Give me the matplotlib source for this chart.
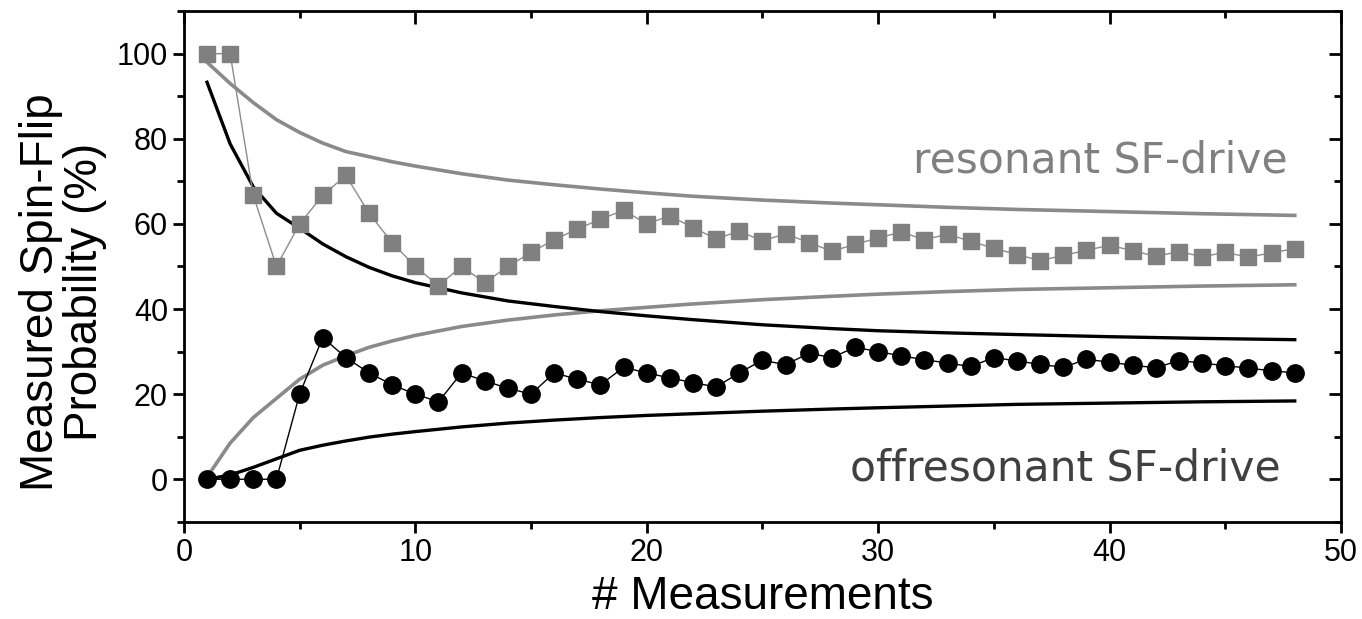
import numpy as np
import matplotlib.pyplot as plt
from matplotlib.ticker import MultipleLocator

# measured points
n = list(range(1, 49))
resonant = [100, 100, 66.7, 50, 60, 66.7, 71.4, 62.5, 55.6, 50, 45.5, 50, 46.2, 50, 53.3, 56.3,
            58.8, 61.1, 63.2, 60, 61.9, 59.1, 56.5, 58.3, 56, 57.7, 55.6, 53.6, 55.2, 56.7, 58.1, 56.3,
            57.6, 55.9, 54.3, 52.8, 51.4, 52.6, 53.8, 55, 53.7, 52.4, 53.5, 52.3, 53.3, 52.2, 53.2, 54.2]
offresonant = [0, 0, 0, 0, 20, 33.3, 28.6, 25, 22.2, 20, 18.2, 25, 23.1, 21.4, 20, 25,
               23.5, 22.2, 26.3, 25, 23.8, 22.7, 21.7, 25, 28, 26.9, 29.6, 28.6, 31, 30, 29, 28.1,
               27.3, 26.5, 28.6, 27.8, 27, 26.3, 28.2, 27.5, 26.8, 26.2, 27.9, 27.3, 26.7, 26.1, 25.5, 25]

# bound curves
xc = [1, 2, 3, 4, 5, 6, 7, 8, 9, 10, 12, 14, 16, 18, 20, 22, 25, 28, 30, 33, 36, 40, 44, 48]
res_hi = [98, 93, 88.5, 84.5, 81.5, 79, 77, 75.8, 74.6, 73.6, 71.8, 70.3, 69.2, 68.2, 67.3, 66.5,
          65.6, 64.9, 64.5, 63.9, 63.4, 62.9, 62.4, 62]
res_lo = [0.5, 8.5, 14.5, 19, 23.5, 26.8, 29, 31, 32.5, 33.8, 35.9, 37.4, 38.6, 39.6, 40.4, 41.2,
          42.2, 43, 43.5, 44.1, 44.6, 45, 45.4, 45.7]
off_hi = [93.3, 78.8, 68.7, 62.5, 59, 55.3, 52.3, 49.8, 47.8, 46.2, 43.8, 41.9, 40.6, 39.4, 38.4, 37.5,
          36.3, 35.4, 34.9, 34.4, 34, 33.5, 33.1, 32.8]
off_lo = [0, 1, 2.8, 4.8, 6.8, 8, 9, 9.9, 10.6, 11.2, 12.3, 13.2, 13.9, 14.5, 15, 15.4,
          16, 16.5, 16.8, 17.2, 17.6, 17.9, 18.2, 18.4]

gray = '#8a8a8a'

fig = plt.figure(figsize=(13.62, 6.19), dpi=100)
ax = fig.add_axes([0.135, 0.157, 0.8496, 0.825])

ax.plot(xc, res_hi, color=gray, lw=2.6, zorder=2)
ax.plot(xc, res_lo, color=gray, lw=2.6, zorder=2)
ax.plot(xc, off_hi, color='black', lw=2.4, zorder=2)
ax.plot(xc, off_lo, color='black', lw=2.4, zorder=2)

ax.plot(n, resonant, color='#8c8c8c', lw=1.0, marker='s', ms=11.5, mfc='#808080', mec='#808080', zorder=3)
ax.plot(n, offresonant, color='black', lw=1.0, marker='o', ms=12.5, mfc='black', mec='black', zorder=3)

ax.text(47.7, 72.2, 'resonant SF-drive', color='#808080', fontsize=30.5, ha='right', va='baseline',
        family='DejaVu Sans')
ax.text(47.4, -0.2, 'offresonant SF-drive', color='#404040', fontsize=30.5, ha='right', va='baseline',
        family='DejaVu Sans')

ax.set_xlim(0, 50)
ax.set_ylim(-10, 110)
ax.xaxis.set_major_locator(MultipleLocator(10))
ax.xaxis.set_minor_locator(MultipleLocator(5))
ax.yaxis.set_major_locator(MultipleLocator(20))
ax.yaxis.set_minor_locator(MultipleLocator(10))
ax.set_yticks([0, 20, 40, 60, 80, 100])

for s in ax.spines.values():
    s.set_linewidth(2)
ax.tick_params(which='both', direction='out', width=2, labelsize=22)
ax.tick_params(which='major', length=8)
ax.tick_params(which='minor', length=5)

# mirrored inward ticks on top/right
top = ax.secondary_xaxis('top')
top.xaxis.set_major_locator(MultipleLocator(10))
top.xaxis.set_minor_locator(MultipleLocator(5))
top.tick_params(which='both', direction='in', width=2, labeltop=False)
top.tick_params(which='major', length=9)
top.tick_params(which='minor', length=5)
right = ax.secondary_yaxis('right')
right.yaxis.set_major_locator(MultipleLocator(20))
right.yaxis.set_minor_locator(MultipleLocator(10))
right.tick_params(which='both', direction='in', width=2, labelright=False)
right.tick_params(which='major', length=9)
right.tick_params(which='minor', length=5)

for lab in ax.get_xticklabels() + ax.get_yticklabels():
    lab.set_family('Liberation Sans')
ax.set_xlabel('# Measurements', fontsize=33, family='Liberation Sans', labelpad=5)
ax.set_ylabel('Measured Spin-Flip\nProbability (%)', fontsize=33, family='Liberation Sans',
              linespacing=1.0)
ax.yaxis.set_label_coords(-0.066, 0.45)

fig.savefig('out.png', dpi=100)
